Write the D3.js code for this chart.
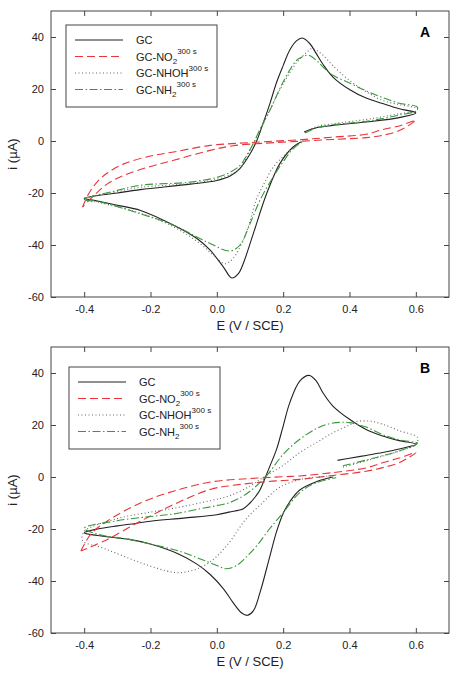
<!DOCTYPE html>
<html>
<head>
<meta charset="utf-8">
<script src="https://cdn.jsdelivr.net/npm/d3@7"></script>
<style>
body { margin: 0; background: #fff; }
</style>
</head>
<body>
<div id="vis-container"></div>
<script>
// ---- data: [E (V/SCE), i (uA)] along each scan ----
var gcA = [[0.263,3.5],[0.30,5.1],[0.35,6.0],[0.45,7.3],[0.55,9.0],[0.60,10.8],
	[0.55,12.4],[0.50,14.4],[0.45,16.5],[0.40,19.8],[0.35,24.6],[0.32,29.5],[0.30,33.6],[0.28,37.5],[0.258,39.6],[0.24,38.5],[0.22,35],[0.20,29],[0.18,22.5],[0.16,14.4],[0.14,7],[0.12,0],[0.10,-5],[0.07,-10.5],[0.04,-13.5],[0.0,-15.2],[-0.08,-16.6],[-0.23,-18.7],[-0.3,-20],[-0.4,-22],
	[-0.37,-22.8],[-0.3,-24.7],[-0.23,-26.7],[-0.13,-32.4],[-0.06,-37.5],[-0.02,-42],[0.02,-48.5],[0.045,-52.7],[0.065,-51],[0.08,-47],[0.11,-35.6],[0.15,-20.3],[0.19,-8.7],[0.23,-2.3],[0.255,-0.3]];
var no2A = [[-0.405,-25.4],[-0.385,-20],[-0.36,-15.6],[-0.33,-12.3],[-0.28,-8.8],[-0.2,-5.8],[-0.13,-4.2],[-0.02,-1.7],[0.1,-0.6],[0.25,0.5],[0.35,1.5],[0.45,2.6],[0.5,4.4],[0.55,5.8],[0.6,8],
	[0.55,4],[0.5,2.2],[0.45,1.3],[0.35,0.6],[0.25,-0.1],[0.15,-0.8],[0.05,-1.8],[-0.02,-3.6],[-0.13,-7.4],[-0.2,-9.8],[-0.28,-13.2],[-0.33,-16.5],[-0.37,-20.9],[-0.405,-25.4]];
var nhohA = [[0.266,3.3],[0.30,5.5],[0.35,6.6],[0.45,8.3],[0.50,9.3],[0.55,10.5],[0.60,11.5],[0.605,12.4],
	[0.55,14],[0.50,15.6],[0.45,19],[0.40,23.3],[0.35,29],[0.32,33],[0.30,34.9],[0.285,35.5],[0.27,34],[0.24,30],[0.2,22],[0.16,12],[0.13,4],[0.11,-1],[0.09,-6],[0.07,-10.5],[0.02,-14],[-0.08,-16.3],[-0.23,-17.8],[-0.3,-19.5],[-0.4,-22.3],
	[-0.35,-23.8],[-0.23,-27.8],[-0.13,-33],[-0.05,-39.5],[-0.01,-44],[0.025,-47.2],[0.05,-45],[0.08,-38],[0.10,-31],[0.118,-22.8],[0.14,-17],[0.17,-10],[0.2,-6],[0.23,-2.5],[0.255,-0.5]];
var nh2A = [[0.266,3.1],[0.30,5.0],[0.35,6.2],[0.45,7.6],[0.50,8.6],[0.55,10],[0.60,11.5],[0.605,13],
	[0.55,14.5],[0.50,16.7],[0.45,19.3],[0.40,22.3],[0.35,25.3],[0.32,28.5],[0.30,31],[0.276,33],[0.26,32.5],[0.24,31],[0.2,22.7],[0.16,11.8],[0.13,4.5],[0.11,-1],[0.09,-5.5],[0.07,-9.4],[0.02,-13.2],[-0.08,-15.8],[-0.23,-17],[-0.3,-19],[-0.4,-22.5],
	[-0.35,-23.5],[-0.23,-28],[-0.13,-32.4],[-0.03,-38.8],[0.04,-42.3],[0.07,-40],[0.10,-31.8],[0.13,-22.8],[0.17,-13.8],[0.2,-8],[0.23,-3],[0.262,0]];

var gcB = [[0.364,6.4],[0.40,7.2],[0.45,8.3],[0.50,9.4],[0.55,10.8],[0.60,12.6],
	[0.55,14.0],[0.50,15.8],[0.45,18.3],[0.40,22.2],[0.35,27.3],[0.32,32.4],[0.30,36.9],[0.278,39.1],[0.25,36.9],[0.22,28.6],[0.20,19.6],[0.18,10.6],[0.16,4.2],[0.148,0.4],[0.13,-5],[0.118,-7.3],[0.10,-10],[0.08,-12.2],[0.037,-13.5],[0.0,-14.5],[-0.1,-15.8],[-0.2,-17],[-0.264,-18.2],[-0.3,-18.8],[-0.36,-20],[-0.4,-21.5],
	[-0.36,-22.5],[-0.264,-24],[-0.2,-25.8],[-0.114,-29.7],[-0.06,-33.5],[-0.02,-37.5],[0.02,-43],[0.05,-48.5],[0.075,-52.3],[0.092,-53.2],[0.11,-51.5],[0.13,-44.5],[0.16,-30.4],[0.18,-21],[0.20,-14],[0.22,-9.5],[0.25,-5],[0.30,-1.8],[0.35,0]];
var no2B = [[-0.41,-28.5],[-0.38,-22],[-0.33,-16.9],[-0.229,-9.9],[-0.129,-5.4],[-0.018,-1.9],[0.1,-0.6],[0.2,0.1],[0.25,0.4],[0.35,1.7],[0.45,3.5],[0.5,5.5],[0.55,7.3],[0.6,9.4],
	[0.55,5.5],[0.5,3.6],[0.45,2.2],[0.35,0.6],[0.25,-0.9],[0.15,-1.8],[0.05,-3.2],[-0.018,-4.7],[-0.129,-10.5],[-0.229,-16.9],[-0.33,-24],[-0.41,-28.5]];
var nhohB = [[0.38,3.8],[0.45,6.2],[0.50,8],[0.55,10],[0.60,12.5],[0.605,15.2],
	[0.55,17.8],[0.50,20.3],[0.46,21.5],[0.42,21.3],[0.40,20],[0.35,17],[0.30,13.2],[0.25,9.4],[0.20,4.5],[0.138,-0.3],[0.10,-3.5],[0.037,-7.3],[-0.016,-9],[-0.129,-12],[-0.2,-13.5],[-0.3,-16],[-0.4,-21],
	[-0.405,-24.5],[-0.35,-27],[-0.3,-29.5],[-0.25,-32],[-0.2,-34.3],[-0.15,-36.2],[-0.114,-36.8],[-0.07,-35.8],[-0.03,-33.5],[0.0,-30.5],[0.037,-25.3],[0.087,-16.3],[0.138,-9.9],[0.188,-4.1],[0.25,-1],[0.30,0],[0.36,0.5]];
var nh2B = [[0.38,4.3],[0.45,6.5],[0.50,8.2],[0.55,10],[0.60,12.4],[0.605,13],
	[0.55,14.3],[0.50,16.3],[0.45,19.2],[0.40,20.9],[0.37,21],[0.33,20.2],[0.30,18.6],[0.25,14.5],[0.20,8.7],[0.15,0.5],[0.10,-5.5],[0.07,-8],[0.037,-9.9],[0.0,-11],[-0.05,-12.2],[-0.129,-14.2],[-0.2,-15.2],[-0.3,-16.8],[-0.4,-19.7],
	[-0.36,-22],[-0.264,-24],[-0.2,-25.8],[-0.114,-28.5],[-0.05,-31.5],[0.0,-34],[0.027,-35.3],[0.06,-34],[0.087,-31],[0.12,-26.5],[0.158,-20.1],[0.2,-13.7],[0.25,-6],[0.3,-2.2],[0.36,-0.3]];

var xTicks = [-0.4, -0.2, 0.0, 0.2, 0.4, 0.6];
var yTicks = [-60, -40, -20, 0, 20, 40];
var legendBase = ["GC", "GC-NO", "GC-NHOH", "GC-NH"];
var legendSub = ["", "2", "", "2"];
var legendSup = ["", "300 s", "300 s", "300 s"];

var styles = [
	{ color: "#222", dash: null },
	{ color: "#e8343a", dash: "8,4" },
	{ color: "#666", dash: "1,2.5" },
	{ color: "#3a963a", dash: "8,2.5,1.5,2.5" }
];

var width = 474, height = 674;
var svg = d3.select("#vis-container").append("svg")
	.attr("width", width).attr("height", height)
	.style("font-family", "Arial, 'Liberation Sans', sans-serif");

var x = d3.scaleLinear().domain([-0.5, 0.7]);
var y = d3.scaleLinear().domain([-60, 50]);

function drawPanel(top, series, letter, legendPos) {
	var left = 51, right = 449, bottom = top + 286;
	var xs = x.copy().range([left, right]);
	var ys = y.copy().range([bottom, top]);
	var g = svg.append("g");

	// axes with inward ticks on all four sides
	g.append("g").attr("transform", "translate(0," + bottom + ")")
		.call(d3.axisBottom(xs).tickValues(xTicks).tickSizeInner(-5).tickSizeOuter(0).tickPadding(8)
			.tickFormat(function (d) { return d.toFixed(1); }));
	g.append("g").attr("transform", "translate(0," + top + ")")
		.call(d3.axisTop(xs).tickValues(xTicks).tickSizeInner(-5).tickSizeOuter(0).tickFormat(""));
	g.append("g").attr("transform", "translate(" + left + ",0)")
		.call(d3.axisLeft(ys).tickValues(yTicks).tickSizeInner(-5).tickSizeOuter(0).tickPadding(7)
			.tickFormat(function (d) { return String(d); }));
	g.append("g").attr("transform", "translate(" + right + ",0)")
		.call(d3.axisRight(ys).tickValues(yTicks).tickSizeInner(-5).tickSizeOuter(0).tickFormat(""));
	g.selectAll(".domain").remove();
	g.selectAll(".tick line").attr("stroke", "#444");
	g.selectAll(".tick text").attr("font-size", 11).attr("fill", "#222")
		.attr("font-family", "Arial, 'Liberation Sans', sans-serif");

	g.append("rect").attr("x", left).attr("y", top)
		.attr("width", right - left).attr("height", bottom - top)
		.attr("fill", "none").attr("stroke", "#444").attr("stroke-width", 1);

	// curves
	var line = d3.line()
		.x(function (d) { return xs(d[0]); })
		.y(function (d) { return ys(d[1]); })
		.curve(d3.curveCatmullRom.alpha(0.5));
	for (var s = 0; s < series.length; ++s) {
		g.append("path")
			.attr("d", line(series[s]))
			.attr("fill", "none")
			.attr("stroke", styles[s].color)
			.attr("stroke-width", 1.1)
			.attr("stroke-dasharray", styles[s].dash);
	}

	// axis titles
	g.append("text").attr("x", (left + right) / 2).attr("y", bottom + 33)
		.attr("text-anchor", "middle").attr("font-size", 13).attr("fill", "#222")
		.text("E (V / SCE)");
	g.append("text")
		.attr("transform", "translate(17," + ((top + bottom) / 2) + ") rotate(-90)")
		.attr("text-anchor", "middle").attr("font-size", 13).attr("fill", "#222")
		.text("i (\u00b5A)");

	// panel letter
	g.append("text").attr("x", 425).attr("y", top + 26)
		.attr("text-anchor", "middle").attr("font-size", 14).attr("font-weight", "bold")
		.text(letter);

	// legend
	var lx = legendPos[0], ly = legendPos[1];
	g.append("rect").attr("x", lx).attr("y", ly).attr("width", 151).attr("height", 82)
		.attr("fill", "#fff").attr("stroke", "#444").attr("stroke-width", 1);
	for (var k = 0; k < legendBase.length; ++k) {
		var ry = ly + 15 + k * 16.5;
		g.append("line").attr("x1", lx + 9).attr("x2", lx + 57)
			.attr("y1", ry).attr("y2", ry)
			.attr("stroke", styles[k].color).attr("stroke-width", 1.1)
			.attr("stroke-dasharray", styles[k].dash);
		var t = g.append("text").attr("x", lx + 70).attr("y", ry + 4)
			.attr("font-size", 11).attr("fill", "#222");
		t.append("tspan").text(legendBase[k]);
		if (legendSub[k]) {
			t.append("tspan").attr("font-size", 8).attr("dy", 3).text(legendSub[k]);
			t.append("tspan").attr("font-size", 8).attr("dy", -10).text(legendSup[k]);
		} else if (legendSup[k]) {
			t.append("tspan").attr("font-size", 8).attr("dy", -6).text(legendSup[k]);
		}
	}
}

drawPanel(11, [gcA, no2A, nhohA, nh2A], "A", [66, 25]);
drawPanel(347, [gcB, no2B, nhohB, nh2B], "B", [69, 367]);
</script>
</body>
</html>
